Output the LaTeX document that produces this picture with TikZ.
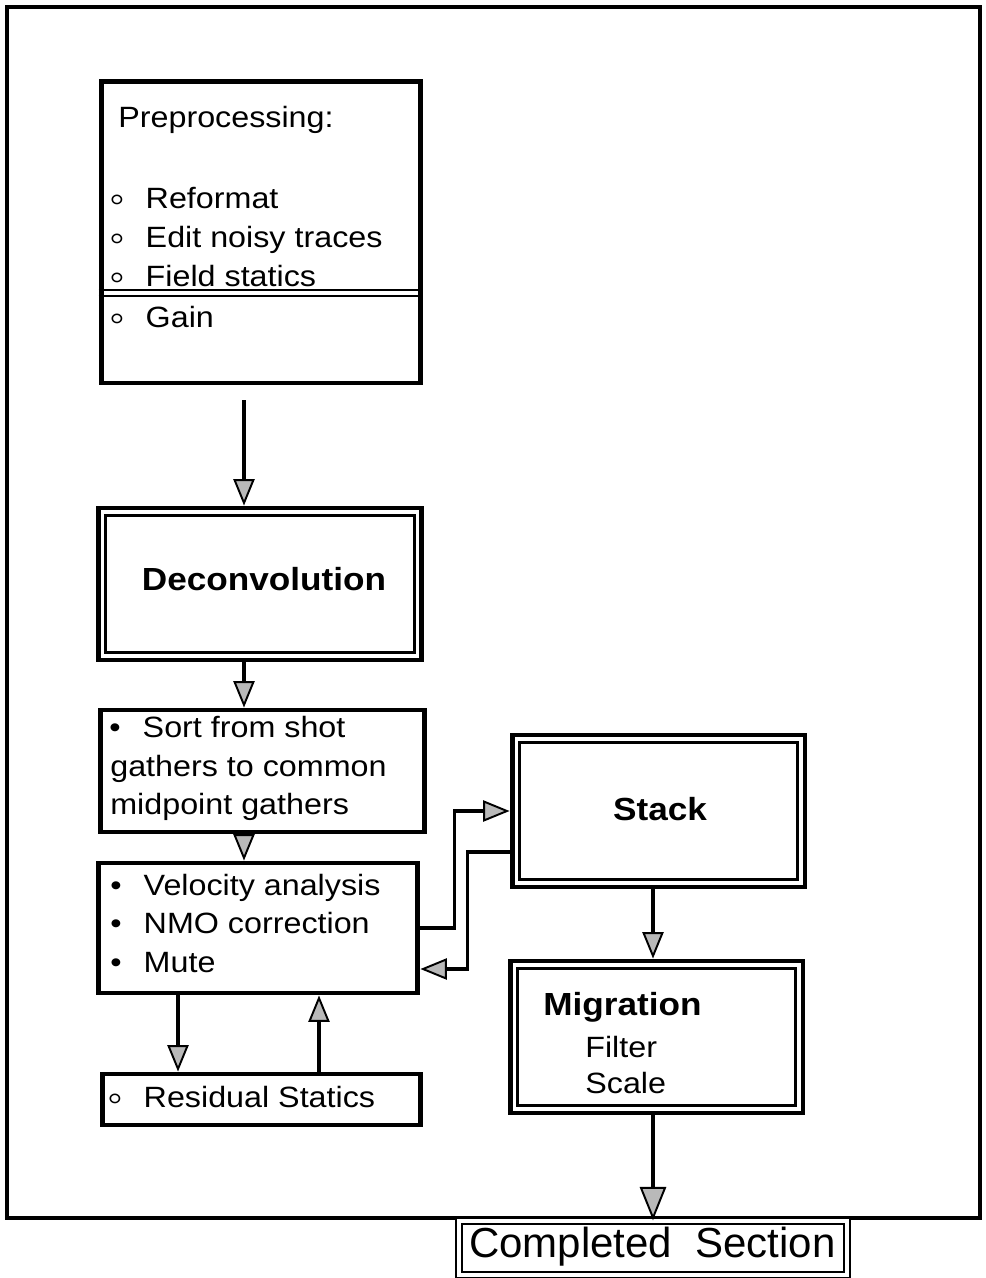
\documentclass[tikz,border=0pt]{standalone}
\usepackage{fontspec}
\usetikzlibrary{calc,arrows.meta}

\newfontfamily\boxfont[FakeStretch=1.1]{Liberation Sans}
\newfontfamily\endfont{Liberation Sans}
\newcommand{\pxl}{0.569pt}
\newcommand{\dotb}{\makebox[19pt][l]{•}}
\newcommand{\ringb}{\makebox[19pt][l]{\hspace{-1.5pt}\raisebox{-2.5pt}{\bfseries\fontsize{23}{20}\selectfont ◦}}}

\begin{document}
\begin{tikzpicture}[x=0.02cm,y=-0.02cm,
	box/.style={draw, line width=2.8pt, inner sep=0pt},
	inner/.style={line width=1.4pt},
	txt/.style={anchor=base west, inner sep=0pt, font=\boxfont\fontsize{16.7}{20}\selectfont},
	lbl/.style={anchor=base, inner sep=0pt, font=\boxfont\bfseries\fontsize{18.2}{22}\selectfont},
	flow/.style={line width=1.9pt, -{Triangle[length=15pt,width=12pt,fill=gray!55,line width=1.1pt]}}]
		\useasboundingbox (0,0) rectangle (985,1278);
		
		%page frame
		\draw[line width=1.8pt] (7,7) rectangle (980,1218);
		
		%boxes
		\node[box, minimum width=320*\pxl, minimum height=302*\pxl] (pre) at (261,232) {};
		\node[box, minimum width=324*\pxl, minimum height=152*\pxl] (decon) at (260,584) {};
		\node[box, minimum width=325*\pxl, minimum height=122*\pxl] (sort) at (262.5,771) {};
		\node[box, minimum width=320*\pxl, minimum height=130*\pxl] (velo) at (258,928) {};
		\node[box, minimum width=319*\pxl, minimum height=51*\pxl] (resid) at (261.5,1099.5) {};
		\node[box, minimum width=293*\pxl, minimum height=152*\pxl] (stack) at (658.5,811) {};
		\node[box, minimum width=293*\pxl, minimum height=152*\pxl] (migr) at (656.5,1037) {};
		\node[draw, double, double distance=2.6pt, line width=0.8pt, inner sep=0pt,
			minimum width=388*\pxl, minimum height=54*\pxl] (done) at (653,1248) {};
		
		%inner frames
		\draw[inner] ($(decon.north west)+(10,10)$) rectangle ($(decon.south east)+(-10,-10)$);
		\draw[inner] ($(stack.north west)+(10,10)$) rectangle ($(stack.south east)+(-10,-10)$);
		\draw[inner] ($(migr.north west)+(10,10)$) rectangle ($(migr.south east)+(-10,-10)$);
		
		%divider under field statics
		\draw[line width=1.2pt] ($(pre.west)+(0,58)$) -- ($(pre.east)+(0,58)$);
		\draw[line width=1.2pt] ($(pre.west)+(0,64)$) -- ($(pre.east)+(0,64)$);
		
		%preprocessing
		\node[txt] (pre0) at (118,127) {Preprocessing:};
		\node[txt] (pre1) at (112,208) {\ringb Reformat};
		\node[txt] (pre2) at (112,247) {\ringb Edit noisy traces};
		\node[txt] (pre3) at (112,286) {\ringb Field statics};
		\node[txt] (pre4) at (112,327) {\ringb Gain};
		
		%sorting
		\node[txt] (sort1) at (109,737) {\dotb Sort from shot};
		\node[txt] (sort2) at (110,776) {gathers to common};
		\node[txt] (sort3) at (110,814) {midpoint gathers};
		
		%velocity
		\node[txt] (velo1) at (110,895) {\dotb Velocity analysis};
		\node[txt] (velo2) at (110,933) {\dotb NMO correction};
		\node[txt] (velo3) at (110,972) {\dotb Mute};
		
		\node[txt] (resid1) at (110,1107) {\ringb Residual Statics};
		
		%titles
		\node[lbl] (decon1) at (264,590) {Deconvolution};
		\node[lbl] (stack1) at (660,820) {Stack};
		\node[lbl, anchor=base west] (migr1) at (543,1015) {Migration};
		\node[txt] (migr2) at (585,1057) {Filter};
		\node[txt] (migr3) at (585,1093) {Scale};
		\node[anchor=base, inner sep=0pt, font=\endfont\fontsize{23.9}{28}\selectfont]
			(done1) at (652.5,1257) {Completed\ \ Section};
		
		%arrows
		\coordinate (c1) at (244,400);
		\coordinate (c2) at (653,0);
		\coordinate (c3) at (178,0);
		\coordinate (c4) at (319,0);
		\draw[flow] (c1) -- (c1 |- decon.north);
		\draw[flow] (decon.south -| c1) -- (sort.north -| c1);
		\draw[flow] (sort.south -| c1) -- (velo.north -| c1);
		\draw[flow] (velo.east) -- ++(34,0) |- (stack.west);
		\draw[flow] ($(stack.west)+(0,41)$) -- ++(-42,0) |- ($(velo.east)+(0,41)$);
		\draw[flow] (velo.south -| c3) -- (resid.north -| c3);
		\draw[flow] (resid.north -| c4) -- (velo.south -| c4);
		\draw[flow] (stack.south -| c2) -- (migr.north -| c2);
		\draw[flow, line width=2.6pt, -{Triangle[length=19pt,width=15pt,fill=gray!55,line width=1.1pt]}]
			(migr.south -| c2) -- (done.north -| c2);
		
\end{tikzpicture}
\end{document}
